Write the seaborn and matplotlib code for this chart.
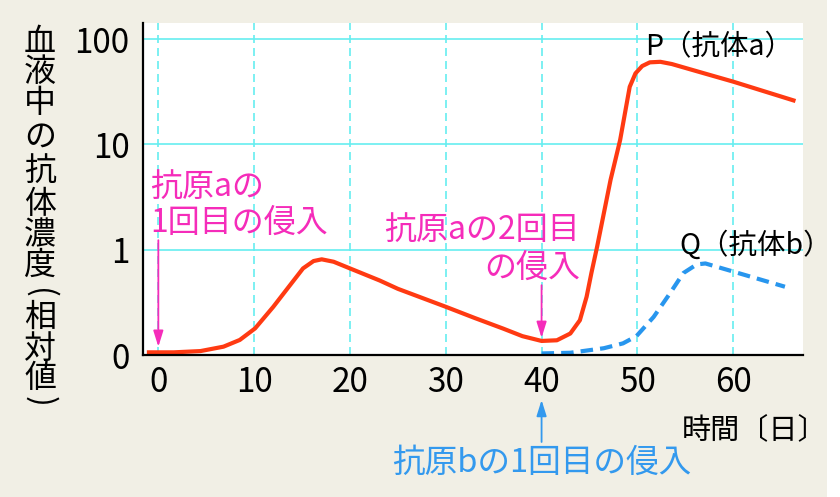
import numpy as np
import pandas as pd
import matplotlib
matplotlib.use("Agg")
import matplotlib.pyplot as plt
import seaborn as sns
from matplotlib.patches import Rectangle
from matplotlib.ticker import FixedLocator, FixedFormatter

# 抗体a（P）: 日数と濃度（相対値, 対数目盛り）
day_a = [-1.2, 1.6, 4.4, 6.8, 8.5, 10.1, 12, 13.75, 15.1, 16.2, 17.05, 18.3, 20,
         23.1, 25, 30, 33, 36, 38, 40, 41.6, 43, 44, 44.7, 45.2, 45.8, 47.2, 47.7,
         48.2, 49.2, 49.8, 50.5, 51.3, 52.4, 53.6, 56.4, 60, 66.5]
conc_a = [0.106, 0.106, 0.109, 0.12, 0.139, 0.179, 0.287, 0.461, 0.664, 0.78, 0.81,
          0.768, 0.664, 0.51, 0.425, 0.287, 0.225, 0.178, 0.151, 0.136, 0.138, 0.16,
          0.214, 0.357, 0.6, 1.07, 4.6, 7.1, 11, 35.2, 47.2, 55.4, 60.1, 60.8, 57.9,
          48.9, 39.4, 25.8]

# 抗体b（Q）
day_b = [40, 43, 46.5, 48.5, 49.9, 51.7, 53.4, 54.8, 56.2, 57.1, 60, 65.4]
conc_b = [0.1035, 0.105, 0.116, 0.129, 0.151, 0.23, 0.385, 0.6, 0.725, 0.74, 0.62, 0.445]

# 目盛り
x_ticks = [0, 10, 20, 30, 40, 50, 60]
y_ticks = [0.1, 1, 10, 100]
y_tick_labels = ["0", "1", "10", "100"]

# 抗原の侵入日
antigen_a_days = [0, 40]
antigen_b_day = 40

ylabel_chars = list("血液中の抗体濃度") + ["("] + list("相対値") + [")"]

RED = "#ff3a12"
BLUE = "#2896ee"
MAGENTA = "#f52cba"
BLUE_TXT = "#3399ee"
CYAN = "#66eef0"
BG = "#f1efe5"

sns.set_theme(style="white")
plt.rcParams["font.family"] = ["Noto Sans CJK JP", "DejaVu Sans"]

fig = plt.figure(figsize=(8.4, 4.97), dpi=100, facecolor=BG)
# 右端の白い帯
fig.patches.append(Rectangle((827 / 840, 0), 13 / 840, 1, transform=fig.transFigure,
                             facecolor="white", edgecolor="none", zorder=0))
ax = fig.add_axes([0.1706, 0.2857, 0.7855, 0.668])
ax.set_facecolor("white")

df_a = pd.DataFrame({"day": day_a, "conc": conc_a})
df_b = pd.DataFrame({"day": day_b, "conc": conc_b})
sns.lineplot(data=df_a, x="day", y="conc", ax=ax, color=RED, lw=3.0,
             estimator=None, zorder=4, solid_capstyle="butt", solid_joinstyle="round")
sns.lineplot(data=df_b, x="day", y="conc", ax=ax, color=BLUE, lw=3.0,
             estimator=None, zorder=4, dashes=False, linestyle=(0, (3, 1.7)))

ax.set_yscale("log")
ax.set_xlim(-1.57, 67.3)
ax.set_ylim(0.1, 142)
ax.yaxis.set_major_locator(FixedLocator(y_ticks))
ax.yaxis.set_major_formatter(FixedFormatter(y_tick_labels))
ax.yaxis.set_minor_locator(FixedLocator([]))
ax.set_xticks(x_ticks)
ax.set_xlabel("")
ax.set_ylabel("")

# グリッド
for v in y_ticks[1:]:
    ax.axhline(v, color=CYAN, lw=1.2, zorder=1)
for d in x_ticks:
    ax.axvline(d, color=CYAN, lw=1.2, ls=(0, (4.8, 3)), zorder=1)

for s in ["top", "right"]:
    ax.spines[s].set_visible(False)
for s in ["left", "bottom"]:
    ax.spines[s].set_color("black")
    ax.spines[s].set_linewidth(1.6)
    ax.spines[s].set_zorder(5)

ax.tick_params(axis="both", length=0, labelsize=24, colors="black")
ax.tick_params(axis="y", pad=10)
ax.tick_params(axis="x", pad=7)

# 抗原aの侵入（矢印）
tip_a = [np.interp(d, day_a, conc_a) for d in antigen_a_days]
arrow_kw = dict(arrowstyle="-|>,head_width=0.25,head_length=0.8",
                lw=1.3, shrinkA=0, shrinkB=0)
ax.annotate("", xy=(antigen_a_days[0], tip_a[0] * 1.13), xytext=(antigen_a_days[0], 1.23),
            arrowprops=dict(color=MAGENTA, **arrow_kw), zorder=6)
ax.annotate("", xy=(antigen_a_days[1], tip_a[1] * 1.07), xytext=(antigen_a_days[1], 0.46),
            arrowprops=dict(color=MAGENTA, **arrow_kw), zorder=6)
trans = ax.get_xaxis_transform()
ax.text(-0.87, 0.452, "抗原aの\n1回目の侵入", transform=trans, ha="left", va="center",
        color=MAGENTA, fontsize=23, linespacing=1.15, zorder=6)
ax.text(44.0, 0.32, "抗原aの2回目\nの侵入", transform=trans, ha="right", va="center",
        multialignment="right", color=MAGENTA, fontsize=23, linespacing=1.25, zorder=6)

# 抗原bの侵入（軸の下）
ax.annotate("", xy=(antigen_b_day, -0.1355), xytext=(antigen_b_day, -0.262),
            xycoords=trans, textcoords=trans, annotation_clip=False,
            arrowprops=dict(color=BLUE_TXT, **arrow_kw))
ax.text(antigen_b_day, -0.325, "抗原bの1回目の侵入", transform=trans, ha="center",
        va="center", color=BLUE_TXT, fontsize=23.5)

# 曲線のラベル
ax.text(50.8, 0.928, "P（抗体a）", transform=trans, ha="left", va="center",
        fontsize=20.5, color="black")
ax.text(54.4, 0.33, "Q（抗体b）", transform=trans, ha="left", va="center",
        fontsize=20.5, color="black")
ax.text(0.816, -0.226, "時間〔日〕", transform=ax.transAxes, ha="left", va="center",
        fontsize=21, color="black")

# 縦書きの軸ラベル
ylabel_px = [42, 72, 103, 137, 171, 204, 235, 266, 293, 318, 349, 378, 401]
for ch, py in zip(ylabel_chars, ylabel_px):
    rot = -90 if ch in "()" else 0
    fig.text(40 / 840, 1 - py / 497, ch, ha="center", va="center", fontsize=23,
             color="black", rotation=rot, rotation_mode="anchor")

fig.savefig("out.png", dpi=100, facecolor=fig.get_facecolor())
